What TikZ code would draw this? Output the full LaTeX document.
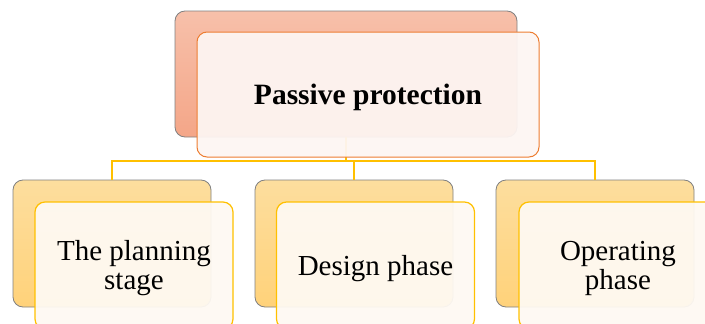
\documentclass[tikz,border=0pt]{standalone}
\usepackage{fontspec}
\setmainfont{Liberation Serif}
\definecolor{topA}{RGB}{247,192,170}
\definecolor{topB}{RGB}{244,166,136}
\definecolor{topFill}{RGB}{253,245,242}
\definecolor{topEdge}{RGB}{237,125,49}
\definecolor{botA}{RGB}{253,222,158}
\definecolor{botB}{RGB}{255,210,122}
\definecolor{botFill}{RGB}{254,249,242}
\definecolor{gold}{RGB}{255,192,0}
\definecolor{greyEdge}{RGB}{128,128,128}
\tikzset{
  backbox/.style={rectangle, rounded corners=10pt, draw=greyEdge, line width=0.8pt, inner sep=0pt},
  topback/.style={backbox, top color=topA, bottom color=topB, minimum width=342pt, minimum height=126pt},
  topfront/.style={rectangle, rounded corners=10pt, draw=topEdge, line width=1pt, fill=topFill, fill opacity=0.95, minimum width=342pt, minimum height=125pt},
  toptext/.style={align=center, font=\fontsize{29.5}{30}\selectfont\bfseries},
  botback/.style={backbox, top color=botA, bottom color=botB, minimum width=198pt, minimum height=127pt},
  botfront/.style={rectangle, rounded corners=10pt, draw=gold, line width=1.2pt, fill=botFill, fill opacity=0.95, minimum width=198pt, minimum height=127pt},
  bottext/.style={align=center, font=\fontsize{29}{29}\selectfont},
  conn/.style={draw=gold, line width=2.4pt}
}
\begin{document}
\begin{tikzpicture}[x=1pt, y=-1pt]
\useasboundingbox (0,0) rectangle (705,324);
\clip (0,0) rectangle (705,324);
\node[topback] (tb) at (346,74) {};
\node[botback] (lb) at (112,243.5) {};
\node[botback] (mb) at (354,243.5) {};
\node[botback] (rb) at (595,243.5) {};
\coordinate (bus) at (0,161);
\draw[conn] (tb.south) -- (tb.south |- bus);
\draw[conn] (lb.north) -- (lb.north |- bus) -- (rb.north |- bus) -- (rb.north);
\draw[conn] (mb.north) -- (mb.north |- bus);
\node[topfront] (tf) at (368,94.5) {};
\node[botfront] (lf) at (134,265.5) {};
\node[botfront] (mf) at (375.5,265.5) {};
\node[botfront] (rf) at (618,265.5) {};
\node[toptext] (tft) at ([yshift=-3pt]tf.center) {Passive protection};
\node[bottext] (lft) at ([yshift=-3pt]lf.center) {The planning\\stage};
\node[bottext] (mft) at ([yshift=-3pt]mf.center) {Design phase};
\node[bottext] (rft) at ([yshift=-3pt]rf.center) {Operating\\phase};
\end{tikzpicture}
\end{document}
